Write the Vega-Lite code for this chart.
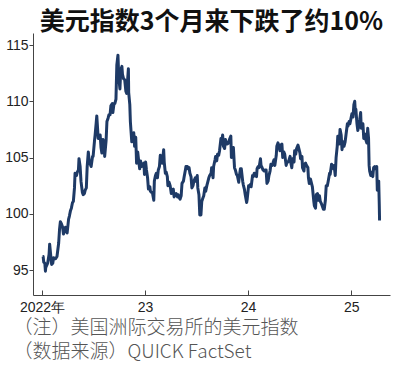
{
  "$schema": "https://vega.github.io/schema/vega-lite/v6.json",
  "width": 357,
  "height": 262,
  "autosize": {"type": "none"},
  "padding": {"left": 33, "top": 33, "right": 10, "bottom": 74},
  "background": "white",
  "title": {
    "text": "美元指数3个月来下跌了约10%",
    "font": "Noto Sans CJK SC",
    "fontSize": 25,
    "fontWeight": "bold",
    "color": "#111",
    "anchor": "middle",
    "baseline": "alphabetic",
    "offset": 4,
    "dy": 26
  },
  "config": {"view": {"stroke": null}},
  "data": {"values": [
    {"d":"2022-01-03","v":96.2},{"d":"2022-01-05","v":96.2},{"d":"2022-01-07","v":95.7},{"d":"2022-01-11","v":95.6},{"d":"2022-01-13","v":94.9},{"d":"2022-01-14","v":95.2},{"d":"2022-01-19","v":95.5},{"d":"2022-01-21","v":95.6},{"d":"2022-01-26","v":96.4},{"d":"2022-01-28","v":97.3},
    {"d":"2022-02-02","v":96.0},{"d":"2022-02-04","v":95.5},{"d":"2022-02-08","v":95.6},{"d":"2022-02-11","v":96.1},{"d":"2022-02-15","v":96.0},{"d":"2022-02-18","v":96.0},{"d":"2022-02-23","v":96.2},{"d":"2022-02-25","v":96.6},
    {"d":"2022-03-01","v":97.4},{"d":"2022-03-04","v":98.6},{"d":"2022-03-07","v":99.3},{"d":"2022-03-11","v":99.1},{"d":"2022-03-15","v":98.8},{"d":"2022-03-18","v":98.2},{"d":"2022-03-22","v":98.5},{"d":"2022-03-25","v":98.8},{"d":"2022-03-29","v":98.4},{"d":"2022-03-31","v":98.3},
    {"d":"2022-04-05","v":99.5},{"d":"2022-04-08","v":99.8},{"d":"2022-04-12","v":100.3},{"d":"2022-04-15","v":100.5},{"d":"2022-04-19","v":101.0},{"d":"2022-04-22","v":101.1},{"d":"2022-04-26","v":102.3},{"d":"2022-04-28","v":103.6},
    {"d":"2022-05-03","v":103.4},{"d":"2022-05-06","v":103.7},{"d":"2022-05-10","v":103.9},{"d":"2022-05-12","v":104.9},{"d":"2022-05-16","v":104.2},{"d":"2022-05-19","v":102.9},{"d":"2022-05-24","v":101.9},{"d":"2022-05-27","v":101.7},{"d":"2022-05-31","v":101.8},
    {"d":"2022-06-03","v":102.1},{"d":"2022-06-07","v":102.3},{"d":"2022-06-10","v":104.2},{"d":"2022-06-14","v":105.5},{"d":"2022-06-17","v":104.7},{"d":"2022-06-21","v":104.4},{"d":"2022-06-24","v":104.2},{"d":"2022-06-29","v":105.1},
    {"d":"2022-07-01","v":105.1},{"d":"2022-07-06","v":106.5},{"d":"2022-07-08","v":107.0},{"d":"2022-07-12","v":108.1},{"d":"2022-07-14","v":108.7},{"d":"2022-07-19","v":106.7},{"d":"2022-07-22","v":106.7},{"d":"2022-07-26","v":107.0},{"d":"2022-07-29","v":105.9},
    {"d":"2022-08-01","v":105.4},{"d":"2022-08-05","v":106.6},{"d":"2022-08-09","v":106.3},{"d":"2022-08-11","v":105.1},{"d":"2022-08-16","v":106.5},{"d":"2022-08-19","v":108.2},{"d":"2022-08-23","v":108.5},{"d":"2022-08-26","v":108.8},{"d":"2022-08-30","v":108.8},
    {"d":"2022-09-02","v":109.6},{"d":"2022-09-07","v":109.8},{"d":"2022-09-09","v":109.0},{"d":"2022-09-13","v":109.8},{"d":"2022-09-16","v":109.8},{"d":"2022-09-20","v":110.2},{"d":"2022-09-23","v":113.2},{"d":"2022-09-27","v":114.1},{"d":"2022-09-30","v":112.1},
    {"d":"2022-10-04","v":111.1},{"d":"2022-10-07","v":112.8},{"d":"2022-10-11","v":113.1},{"d":"2022-10-13","v":112.4},{"d":"2022-10-17","v":112.0},{"d":"2022-10-21","v":111.9},{"d":"2022-10-25","v":110.9},{"d":"2022-10-28","v":110.7},
    {"d":"2022-11-03","v":112.9},{"d":"2022-11-04","v":110.8},{"d":"2022-11-08","v":109.7},{"d":"2022-11-10","v":108.2},{"d":"2022-11-15","v":106.4},{"d":"2022-11-18","v":106.9},{"d":"2022-11-22","v":107.2},{"d":"2022-11-25","v":106.0},{"d":"2022-11-29","v":106.8},
    {"d":"2022-12-02","v":104.5},{"d":"2022-12-06","v":105.5},{"d":"2022-12-09","v":104.8},{"d":"2022-12-13","v":104.0},{"d":"2022-12-16","v":104.7},{"d":"2022-12-20","v":104.2},{"d":"2022-12-23","v":104.3},{"d":"2022-12-28","v":104.5},{"d":"2022-12-30","v":103.5},
    {"d":"2023-01-03","v":104.6},{"d":"2023-01-06","v":103.9},{"d":"2023-01-10","v":103.2},{"d":"2023-01-13","v":102.2},{"d":"2023-01-18","v":102.4},{"d":"2023-01-20","v":102.0},{"d":"2023-01-24","v":101.9},{"d":"2023-01-27","v":101.9},
    {"d":"2023-02-01","v":101.2},{"d":"2023-02-03","v":102.9},{"d":"2023-02-07","v":103.4},{"d":"2023-02-10","v":103.6},{"d":"2023-02-14","v":103.2},{"d":"2023-02-17","v":103.9},{"d":"2023-02-21","v":104.2},{"d":"2023-02-24","v":105.2},{"d":"2023-02-28","v":104.9},
    {"d":"2023-03-03","v":104.5},{"d":"2023-03-08","v":105.7},{"d":"2023-03-10","v":104.6},{"d":"2023-03-14","v":103.6},{"d":"2023-03-17","v":103.7},{"d":"2023-03-21","v":103.3},{"d":"2023-03-23","v":102.5},{"d":"2023-03-27","v":102.8},{"d":"2023-03-31","v":102.5},
    {"d":"2023-04-04","v":101.8},{"d":"2023-04-07","v":102.1},{"d":"2023-04-11","v":102.2},{"d":"2023-04-14","v":101.5},{"d":"2023-04-18","v":101.7},{"d":"2023-04-21","v":101.8},{"d":"2023-04-26","v":101.5},{"d":"2023-04-28","v":101.7},
    {"d":"2023-05-03","v":101.4},{"d":"2023-05-05","v":101.3},{"d":"2023-05-09","v":101.6},{"d":"2023-05-12","v":102.7},{"d":"2023-05-17","v":102.9},{"d":"2023-05-19","v":103.2},{"d":"2023-05-24","v":103.9},{"d":"2023-05-26","v":104.2},{"d":"2023-05-31","v":104.2},
    {"d":"2023-06-02","v":104.0},{"d":"2023-06-06","v":104.1},{"d":"2023-06-09","v":103.6},{"d":"2023-06-13","v":103.3},{"d":"2023-06-16","v":102.3},{"d":"2023-06-20","v":102.5},{"d":"2023-06-23","v":102.9},{"d":"2023-06-28","v":103.2},{"d":"2023-06-30","v":102.9},
    {"d":"2023-07-05","v":103.4},{"d":"2023-07-07","v":102.3},{"d":"2023-07-11","v":101.7},{"d":"2023-07-14","v":99.9},{"d":"2023-07-18","v":99.9},{"d":"2023-07-21","v":101.1},{"d":"2023-07-25","v":101.4},{"d":"2023-07-28","v":101.6},
    {"d":"2023-08-01","v":102.3},{"d":"2023-08-04","v":102.0},{"d":"2023-08-08","v":102.5},{"d":"2023-08-11","v":102.8},{"d":"2023-08-15","v":103.2},{"d":"2023-08-18","v":103.4},{"d":"2023-08-23","v":103.6},{"d":"2023-08-25","v":104.1},{"d":"2023-08-30","v":103.2},
    {"d":"2023-09-01","v":104.2},{"d":"2023-09-06","v":104.8},{"d":"2023-09-08","v":105.1},{"d":"2023-09-12","v":104.7},{"d":"2023-09-15","v":105.3},{"d":"2023-09-19","v":105.2},{"d":"2023-09-22","v":105.6},{"d":"2023-09-27","v":106.7},{"d":"2023-09-29","v":106.2},
    {"d":"2023-10-03","v":107.0},{"d":"2023-10-06","v":106.0},{"d":"2023-10-10","v":105.8},{"d":"2023-10-13","v":106.6},{"d":"2023-10-17","v":106.2},{"d":"2023-10-20","v":106.2},{"d":"2023-10-24","v":106.3},{"d":"2023-10-27","v":106.6},
    {"d":"2023-11-01","v":106.9},{"d":"2023-11-03","v":105.0},{"d":"2023-11-07","v":105.6},{"d":"2023-11-10","v":105.9},{"d":"2023-11-14","v":104.1},{"d":"2023-11-17","v":103.9},{"d":"2023-11-21","v":103.5},{"d":"2023-11-24","v":103.4},{"d":"2023-11-29","v":102.8},
    {"d":"2023-12-01","v":103.3},{"d":"2023-12-05","v":104.0},{"d":"2023-12-08","v":104.0},{"d":"2023-12-13","v":102.9},{"d":"2023-12-15","v":102.6},{"d":"2023-12-19","v":102.2},{"d":"2023-12-22","v":101.7},{"d":"2023-12-27","v":101.0},{"d":"2023-12-29","v":101.3},
    {"d":"2024-01-03","v":102.5},{"d":"2024-01-05","v":102.4},{"d":"2024-01-09","v":102.6},{"d":"2024-01-12","v":102.4},{"d":"2024-01-17","v":103.4},{"d":"2024-01-19","v":103.3},{"d":"2024-01-23","v":103.6},{"d":"2024-01-26","v":103.4},{"d":"2024-01-31","v":103.3},
    {"d":"2024-02-02","v":104.0},{"d":"2024-02-06","v":104.2},{"d":"2024-02-09","v":104.1},{"d":"2024-02-14","v":104.9},{"d":"2024-02-16","v":104.3},{"d":"2024-02-20","v":104.1},{"d":"2024-02-23","v":103.9},{"d":"2024-02-27","v":103.8},
    {"d":"2024-03-01","v":103.9},{"d":"2024-03-05","v":103.9},{"d":"2024-03-08","v":102.7},{"d":"2024-03-12","v":102.9},{"d":"2024-03-15","v":103.4},{"d":"2024-03-19","v":103.8},{"d":"2024-03-22","v":104.4},{"d":"2024-03-26","v":104.3},{"d":"2024-03-29","v":104.5},
    {"d":"2024-04-02","v":104.8},{"d":"2024-04-05","v":104.3},{"d":"2024-04-10","v":105.2},{"d":"2024-04-12","v":106.0},{"d":"2024-04-16","v":106.3},{"d":"2024-04-19","v":106.1},{"d":"2024-04-23","v":105.6},{"d":"2024-04-26","v":106.1},{"d":"2024-04-30","v":106.2},
    {"d":"2024-05-03","v":105.0},{"d":"2024-05-07","v":105.5},{"d":"2024-05-10","v":105.3},{"d":"2024-05-15","v":104.3},{"d":"2024-05-17","v":104.5},{"d":"2024-05-21","v":104.6},{"d":"2024-05-24","v":104.7},{"d":"2024-05-29","v":105.1},{"d":"2024-05-31","v":104.6},
    {"d":"2024-06-04","v":104.1},{"d":"2024-06-07","v":104.9},{"d":"2024-06-12","v":104.6},{"d":"2024-06-14","v":105.6},{"d":"2024-06-18","v":105.3},{"d":"2024-06-21","v":105.8},{"d":"2024-06-26","v":106.1},{"d":"2024-06-28","v":105.9},
    {"d":"2024-07-03","v":105.4},{"d":"2024-07-05","v":104.9},{"d":"2024-07-10","v":105.1},{"d":"2024-07-12","v":104.1},{"d":"2024-07-17","v":103.8},{"d":"2024-07-19","v":104.4},{"d":"2024-07-23","v":104.5},{"d":"2024-07-26","v":104.3},{"d":"2024-07-31","v":104.1},
    {"d":"2024-08-02","v":103.2},{"d":"2024-08-05","v":102.7},{"d":"2024-08-09","v":103.1},{"d":"2024-08-14","v":102.6},{"d":"2024-08-16","v":102.4},{"d":"2024-08-21","v":101.1},{"d":"2024-08-23","v":100.7},{"d":"2024-08-27","v":100.5},{"d":"2024-08-30","v":101.7},
    {"d":"2024-09-03","v":101.8},{"d":"2024-09-06","v":101.2},{"d":"2024-09-10","v":101.6},{"d":"2024-09-13","v":101.1},{"d":"2024-09-17","v":100.9},{"d":"2024-09-20","v":100.7},{"d":"2024-09-24","v":100.4},{"d":"2024-09-27","v":100.4},
    {"d":"2024-10-01","v":101.2},{"d":"2024-10-04","v":102.5},{"d":"2024-10-08","v":102.5},{"d":"2024-10-11","v":102.9},{"d":"2024-10-16","v":103.6},{"d":"2024-10-18","v":103.5},{"d":"2024-10-23","v":104.4},{"d":"2024-10-25","v":104.3},{"d":"2024-10-30","v":104.0},
    {"d":"2024-11-01","v":104.3},{"d":"2024-11-05","v":103.4},{"d":"2024-11-08","v":105.0},{"d":"2024-11-12","v":106.0},{"d":"2024-11-14","v":106.9},{"d":"2024-11-19","v":106.2},{"d":"2024-11-22","v":107.5},{"d":"2024-11-26","v":107.0},{"d":"2024-11-29","v":105.7},
    {"d":"2024-12-03","v":106.4},{"d":"2024-12-06","v":106.0},{"d":"2024-12-10","v":106.4},{"d":"2024-12-13","v":107.0},{"d":"2024-12-18","v":108.0},{"d":"2024-12-20","v":107.8},{"d":"2024-12-24","v":108.2},{"d":"2024-12-27","v":108.0},{"d":"2024-12-31","v":108.5},
    {"d":"2025-01-03","v":108.9},{"d":"2025-01-07","v":108.6},{"d":"2025-01-10","v":109.7},{"d":"2025-01-13","v":110.0},{"d":"2025-01-15","v":109.1},{"d":"2025-01-17","v":109.3},{"d":"2025-01-21","v":108.0},{"d":"2025-01-24","v":107.4},{"d":"2025-01-28","v":107.9},{"d":"2025-01-31","v":108.4},
    {"d":"2025-02-03","v":109.0},{"d":"2025-02-05","v":107.6},{"d":"2025-02-07","v":108.0},{"d":"2025-02-11","v":108.0},{"d":"2025-02-14","v":106.7},{"d":"2025-02-18","v":107.1},{"d":"2025-02-21","v":106.6},{"d":"2025-02-25","v":106.3},{"d":"2025-02-28","v":107.6},
    {"d":"2025-03-03","v":106.7},{"d":"2025-03-05","v":104.3},{"d":"2025-03-07","v":103.8},{"d":"2025-03-11","v":103.4},{"d":"2025-03-14","v":103.7},{"d":"2025-03-18","v":103.3},{"d":"2025-03-21","v":104.1},{"d":"2025-03-25","v":104.2},{"d":"2025-03-28","v":104.0},
    {"d":"2025-04-01","v":104.2},{"d":"2025-04-03","v":102.1},{"d":"2025-04-04","v":102.9},{"d":"2025-04-08","v":102.9},{"d":"2025-04-10","v":100.8},{"d":"2025-04-11","v":99.4}
  ]},
  "mark": {"type": "line", "color": "#1e3a66", "strokeWidth": 3, "strokeJoin": "round", "clip": true},
  "encoding": {
    "x": {
      "field": "d", "type": "temporal",
      "scale": {"domain": ["2021-11-30", "2025-05-18"]},
      "axis": {
        "values": ["2022-01-01", "2023-01-01", "2024-01-01", "2025-01-01"],
        "labelExpr": "year(datum.value) == 2022 ? '2022年' : slice(toString(year(datum.value)), 2)",
        "grid": false,
        "domainColor": "#444",
        "tickColor": "#444",
        "tickSize": -5,
        "labelPadding": 10,
        "labelFont": "Liberation Sans",
        "labelFontSize": 14,
        "labelColor": "#222",
        "labelFlush": false,
        "labelOverlap": false,
        "title": ["（注）美国洲际交易所的美元指数", "（数据来源）QUICK FactSet"],
        "titleFont": "Noto Sans CJK SC",
        "titleFontSize": 19,
        "titleFontWeight": 300,
        "titleColor": "#555",
        "titleAnchor": "start",
        "titleAlign": "left",
        "titleBaseline": "alphabetic",
        "titleX": -20,
        "titleY": 38,
        "titleLineHeight": 24
      }
    },
    "y": {
      "field": "v", "type": "quantitative",
      "scale": {"domain": [92.78, 116.07], "nice": false, "zero": false},
      "axis": {
        "values": [95, 100, 105, 110, 115],
        "grid": false,
        "domainColor": "#444",
        "tickColor": "#444",
        "tickSize": 4,
        "labelPadding": 1,
        "labelFont": "Liberation Sans",
        "labelFontSize": 14,
        "labelColor": "#222",
        "title": null
      }
    }
  }
}
